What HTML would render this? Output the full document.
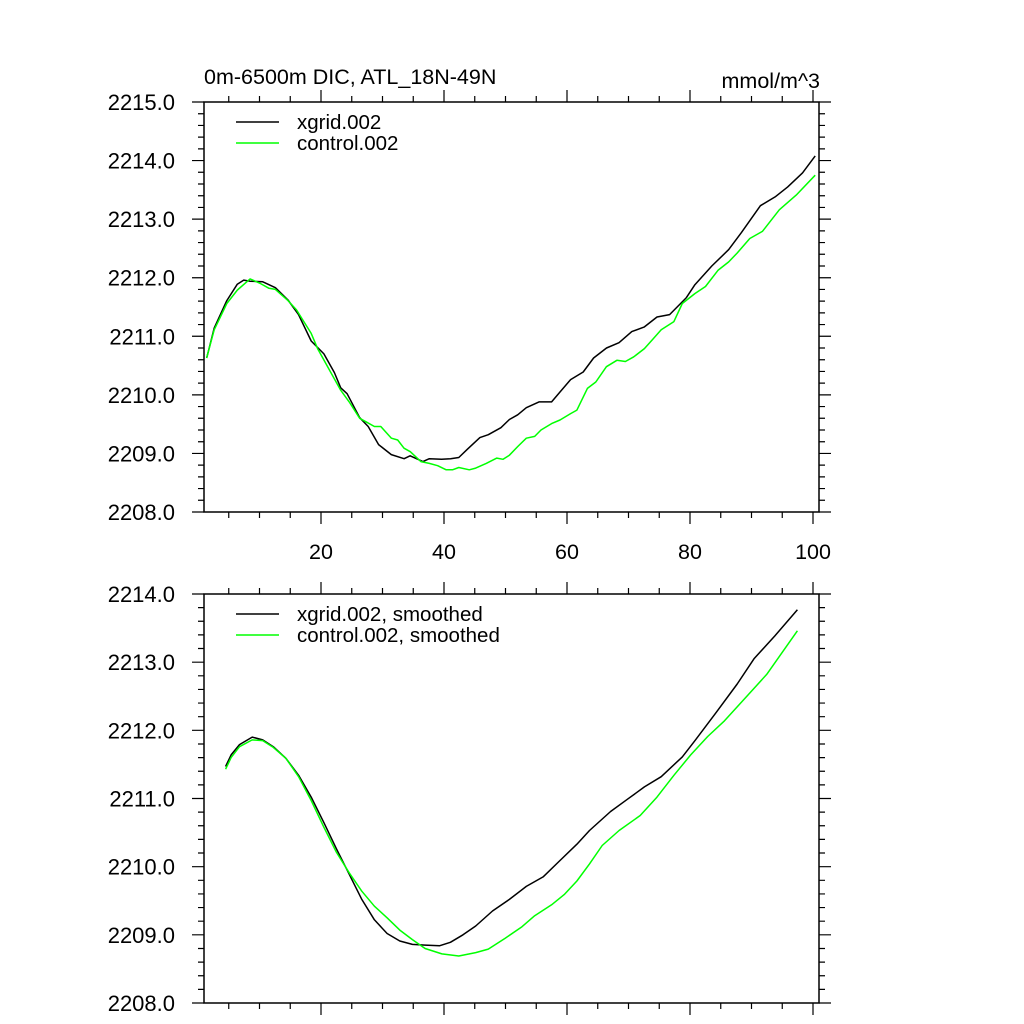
<!DOCTYPE html>
<html><head><meta charset="utf-8">
<style>
html,body{margin:0;padding:0;background:#fff;}
svg{display:block;font-family:"Liberation Sans",Arial,sans-serif;}
</style></head>
<body>
<svg id="chart" width="1024" height="1024" viewBox="0 0 1024 1024" xmlns="http://www.w3.org/2000/svg">
<text x="204" y="84" font-size="21.5">0m-6500m DIC, ATL_18N-49N</text>
<text x="820" y="88" font-size="21.5" text-anchor="end">mmol/m^3</text>
<g id="top"></g>
<g id="bottom"></g>
</svg>
<script>
// top panel data
const topBlackX = [1.41,2.63,4.69,6.39,7.43,8.48,10.53,12.58,14.64,16.34,18.41,20.47,22.18,23.21,24.24,26.3,27.67,29.37,31.43,33.51,34.48,36.57,37.61,39.61,41.07,42.41,43.79,45.84,47.21,49.25,50.64,51.98,53.39,55.44,57.5,58.88,60.58,62.63,64.33,66.42,68.46,70.53,72.58,74.64,76.69,79.42,80.8,83.55,86.29,88.35,91.45,93.84,95.89,98.3,100.35];
const topBlackY = [2210.63,2211.14,2211.61,2211.89,2211.96,2211.94,2211.93,2211.83,2211.62,2211.37,2210.92,2210.70,2210.38,2210.12,2210.02,2209.61,2209.46,2209.15,2208.98,2208.91,2208.96,2208.86,2208.91,2208.90,2208.91,2208.93,2209.07,2209.27,2209.32,2209.44,2209.58,2209.66,2209.78,2209.88,2209.88,2210.05,2210.26,2210.39,2210.63,2210.80,2210.89,2211.08,2211.16,2211.33,2211.37,2211.66,2211.88,2212.20,2212.48,2212.77,2213.23,2213.38,2213.55,2213.79,2214.08];
const topGreenX = [1.40,2.64,4.69,6.41,8.47,10.18,11.55,12.58,14.64,16.01,18.41,19.44,21.49,23.21,24.58,26.29,27.32,28.69,29.72,31.44,32.47,33.49,34.52,36.24,37.61,38.98,40.35,41.38,42.41,44.12,45.15,46.86,48.58,49.61,50.64,52.01,53.38,54.75,55.78,57.49,58.86,60.58,61.61,63.32,64.69,66.41,68.12,69.49,70.86,72.58,73.95,75.32,77.38,78.75,80.81,82.52,84.58,86.29,87.66,89.72,91.78,94.52,97.27,100.35];
const topGreenY = [2210.63,2211.11,2211.56,2211.79,2211.98,2211.90,2211.82,2211.80,2211.61,2211.45,2211.05,2210.79,2210.40,2210.08,2209.88,2209.60,2209.54,2209.46,2209.46,2209.26,2209.23,2209.09,2209.03,2208.86,2208.83,2208.79,2208.72,2208.72,2208.76,2208.72,2208.75,2208.83,2208.92,2208.90,2208.97,2209.12,2209.26,2209.29,2209.40,2209.51,2209.57,2209.68,2209.74,2210.11,2210.22,2210.48,2210.59,2210.57,2210.65,2210.79,2210.95,2211.11,2211.25,2211.56,2211.73,2211.85,2212.13,2212.27,2212.42,2212.67,2212.79,2213.16,2213.41,2213.75];
// bottom panel data (smoothed)
const botBlackX = [4.49,5.38,6.75,8.81,10.52,12.24,14.29,16.35,18.41,20.46,22.52,24.58,26.64,28.69,30.75,32.81,34.86,36.92,39.32,41.04,43.09,45.15,47.89,50.64,53.38,56.12,58.86,61.61,63.66,67.09,69.84,72.58,75.32,78.75,80.81,84.24,87.67,90.41,93.84,97.47];
const botBlackY = [2211.47,2211.64,2211.79,2211.90,2211.86,2211.76,2211.59,2211.34,2211.02,2210.65,2210.26,2209.89,2209.52,2209.22,2209.02,2208.91,2208.86,2208.85,2208.84,2208.89,2209.00,2209.13,2209.35,2209.52,2209.71,2209.85,2210.09,2210.33,2210.53,2210.81,2210.99,2211.17,2211.32,2211.61,2211.85,2212.26,2212.68,2213.05,2213.39,2213.77];
const botGreenX = [4.49,5.38,6.75,8.81,10.52,12.24,14.29,16.35,18.41,20.46,22.52,24.58,26.64,28.69,30.75,32.81,34.86,36.92,39.66,42.41,45.15,47.21,49.95,52.69,54.75,57.49,59.55,61.61,63.66,65.72,68.47,71.9,74.64,77.38,80.12,82.87,85.61,89.04,92.47,97.47];
const botGreenY = [2211.43,2211.60,2211.76,2211.86,2211.85,2211.75,2211.59,2211.32,2210.97,2210.58,2210.21,2209.91,2209.64,2209.42,2209.25,2209.07,2208.93,2208.80,2208.72,2208.69,2208.74,2208.79,2208.95,2209.12,2209.28,2209.44,2209.59,2209.79,2210.04,2210.31,2210.53,2210.75,2211.02,2211.34,2211.64,2211.91,2212.14,2212.48,2212.82,2213.46];
const xTickLabels = [20,40,60,80,100];
const topYTicks = [2208,2209,2210,2211,2212,2213,2214,2215];
const botYTicks = [2208,2209,2210,2211,2212,2213,2214];

const NS = "http://www.w3.org/2000/svg";
const X0 = 204, X1 = 819;
const xs = x => 198 + 6.15 * x;
function mk(tag, attrs, parent){const e=document.createElementNS(NS,tag);for(const k in attrs)e.setAttribute(k,attrs[k]);parent.appendChild(e);return e;}

function panel(g, top, bot, ymin, ymax, series, legend, showX){
  const ys = v => top + (ymax - v) * (bot - top) / (ymax - ymin);
  const fr = mk('rect',{x:X0,y:top,width:X1-X0,height:bot-top,fill:'none',stroke:'#000','stroke-width':1.5},g);
  
  
  let d='';
  for(let v=ymin; v<=ymax+1e-9; v+=0.2){
    const r=Math.round((v-ymin)*5); const major=r%5===0; const L=major?12:6; const y=ys(v);
    d+=`M${X0} ${y}h${-L}M${X1} ${y}h${L}`;
  }
  for(let x=5; x<=100; x+=5){
    const major=x%20===0; const L=major?12:6; const px=xs(x);
    d+=`M${px} ${top}v${-L}M${px} ${bot}v${L}`;
  }
  const tk=mk('path',{d:d,stroke:'#000','stroke-width':1.2,fill:'none'},g);
  
  
  const yt = ymax===2215?topYTicks:botYTicks;
  yt.forEach(v=>{
    const t=mk('text',{x:175,y:ys(v)+8,'font-size':22,'text-anchor':'end'},g);
    t.textContent=v.toFixed(1);
    
    
  });
  if(showX){
    xTickLabels.forEach(v=>{
      const t=mk('text',{x:xs(v),y:559,'font-size':21.5,'text-anchor':'middle'},g);
      t.textContent=String(v);
      
      
    });
  }
  series.forEach((s,i)=>{
    const pts=s.x.map((x,j)=>xs(x).toFixed(1)+','+ys(s.y[j]).toFixed(1)).join(' ');
    const pl=mk('polyline',{points:pts,fill:'none',stroke:s.c,'stroke-width':1.5,'stroke-linejoin':'round'},g);
    
    
    const ly=top+20+i*21;
    const ll=mk('line',{x1:236,x2:279,y1:ly,y2:ly,stroke:s.c,'stroke-width':1.5},g);
    
    
    const lt=mk('text',{x:297,y:ly+7,'font-size':20.5},g);
    lt.textContent=legend[i];
    
    
  });
}
panel(document.getElementById('top'),102,512,2208,2215,
  [{x:topBlackX,y:topBlackY,c:'#000',name:'xgrid-line'},{x:topGreenX,y:topGreenY,c:'#00ff00',name:'control-line'}],
  ['xgrid.002','control.002'],true);
panel(document.getElementById('bottom'),594,1003,2208,2214,
  [{x:botBlackX,y:botBlackY,c:'#000',name:'xgrid-smoothed-line'},{x:botGreenX,y:botGreenY,c:'#00ff00',name:'control-smoothed-line'}],
  ['xgrid.002, smoothed','control.002, smoothed'],false);
</script>
</body></html>
